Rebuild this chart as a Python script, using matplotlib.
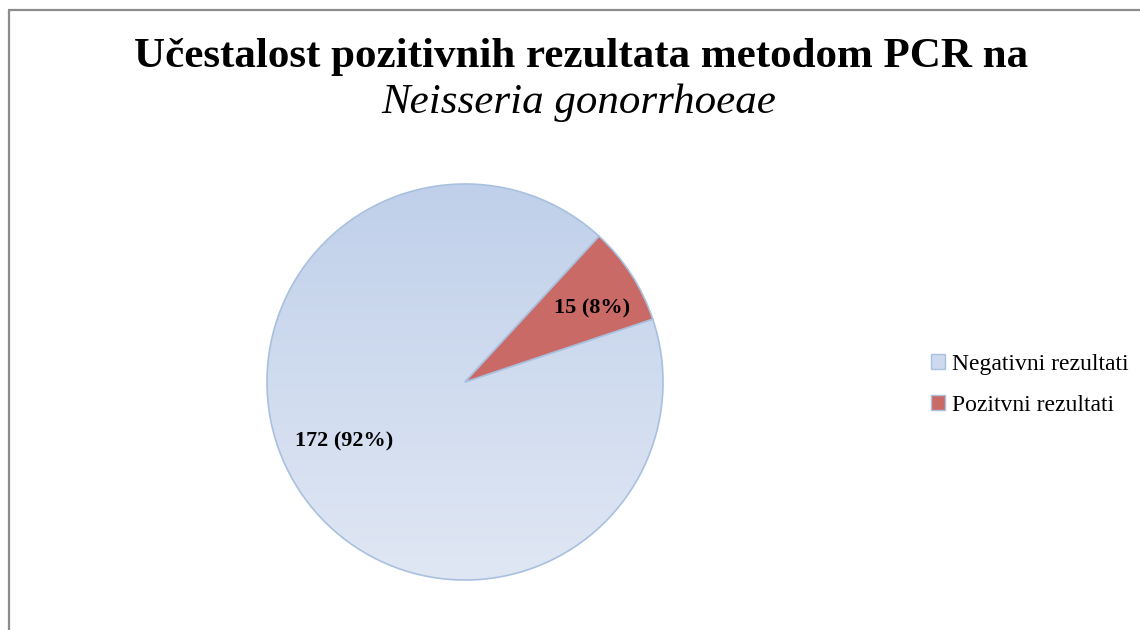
import matplotlib
matplotlib.use("Agg")
import numpy as np
from matplotlib import pyplot as plt
from matplotlib.lines import Line2D
from matplotlib.patches import Patch

labels = ["Negativni rezultati", "Pozitvni rezultati"]
counts = [172, 15]
title_line1 = "Učestalost pozitivnih rezultata metodom PCR na"
title_line2 = "Neisseria gonorrhoeae"

plt.rcParams['font.family'] = ['Liberation Serif', 'DejaVu Serif']

W, H = 1140, 630
fig = plt.figure(figsize=(W / 100, H / 100), dpi=100)
fig.patch.set_facecolor('white')

# grey frame (top and left edges visible)
fig.add_artist(Line2D([8 / W, 1.0], [1 - 10 / H, 1 - 10 / H], color='#8c8c8c', lw=1.6,
                      solid_capstyle='butt'))
fig.add_artist(Line2D([8.5 / W, 8.5 / W], [0.0, 1 - 10 / H], color='#8c8c8c', lw=1.6,
                      solid_capstyle='butt'))

# title
fig.text(581 / W, 1 - 67 / H, title_line1, ha='center', va='baseline',
         fontsize=31, fontweight='bold')
fig.text(579 / W, 1 - 113 / H, title_line2, ha='center', va='baseline',
         fontsize=31, fontstyle='italic')

# pie axes: centre (465, 382), radius 200 px
cx, cy, r = 465, 382, 200
ax = fig.add_axes([(cx - r) / W, (H - cy - r) / H, 2 * r / W, 2 * r / H])

blue_top = np.array([192, 208, 234]) / 255
blue_bot = np.array([224, 231, 244]) / 255
red = '#c96a67'

total = sum(counts)
wedges, texts, autotexts = ax.pie(
    counts, colors=['none', red], startangle=47.4, counterclock=True,
    radius=1.0, center=(0, 0), frame=True,
    autopct=lambda p: '{} ({:.0f}%)'.format(int(round(p * total / 100)), p),
    pctdistance=0.72,
    wedgeprops=dict(edgecolor='#a9c0de', linewidth=1.2),
    textprops=dict(fontsize=16, fontweight='bold', color='black'))
ax.set_xlim(-1.01, 1.01)
ax.set_ylim(-1.01, 1.01)
ax.axis('off')

# vertical gradient fill for the negative slice
t = np.linspace(0, 1, 256)[:, None]
grad = blue_top[None, :] * (1 - t) + blue_bot[None, :] * t
grad = np.repeat(grad[:, None, :], 2, axis=1)
img = ax.imshow(grad, extent=(-1, 1, -1, 1), origin='upper', aspect='auto', zorder=0.5)
img.set_clip_path(wedges[0])
wedges[0].set_zorder(1)
for tx in autotexts:
    tx.set_zorder(3)

autotexts[0].set_position((-0.61, -0.30))
autotexts[1].set_position((0.64, 0.37))

handles = [Patch(facecolor='#cdd9ee', edgecolor='#a9c0de', lw=1),
           Patch(facecolor=red, edgecolor='#a9c0de', lw=1)]
fig.legend(handles, labels, loc='upper left', bbox_to_anchor=(931 / W, 1 - 354 / H),
           frameon=False, fontsize=17, handlelength=0.6, handleheight=0.6,
           handletextpad=0.3, labelspacing=0.85, borderaxespad=0, borderpad=0)

fig.savefig('out.png', dpi=100, facecolor='white')
